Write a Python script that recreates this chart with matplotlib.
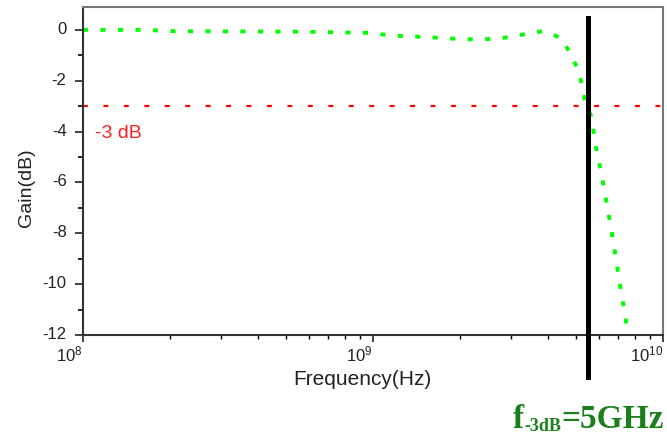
import matplotlib
matplotlib.use('Agg')
from matplotlib import pyplot as plt
from matplotlib.ticker import MultipleLocator, LogLocator, NullFormatter
from matplotlib.transforms import ScaledTranslation

plt.rcParams['font.family'] = ['Liberation Sans', 'DejaVu Sans']
plt.rcParams['mathtext.fontset'] = 'custom'
plt.rcParams['mathtext.rm'] = 'Liberation Sans'
plt.rcParams['axes.unicode_minus'] = False

# Gain curve
freqs = [1.0e8, 1.61e8, 2.07e8, 5.6e8, 9.8e8, 1.15e9, 1.57e9, 2.07e9, 2.43e9,
         2.83e9, 3.29e9, 3.85e9, 4.45e9, 4.82e9, 5.09e9, 5.26e9, 5.38e9,
         5.65e9, 5.87e9, 6.17e9, 6.46e9, 6.73e9, 7.0e9, 7.28e9, 7.57e9]
gain = [0.0, 0.0, -0.05, -0.07, -0.12, -0.22, -0.29, -0.37, -0.37,
        -0.31, -0.18, -0.05, -0.31, -0.98, -1.57, -2.17, -2.76,
        -3.39, -4.6, -5.83, -7.09, -8.3, -9.53, -10.75, -11.93]
ref_level = -3
f3db = 5.5e9
yticks = [0, -2, -4, -6, -8, -10, -12]

fig = plt.figure(figsize=(6.67, 4.35), dpi=100)
ax = fig.add_axes([0.1244, 0.2276, 0.8696, 0.754])

ax.plot(freqs, gain, color='#00ff00', lw=2.8, dashes=(1.3, 3.2), solid_capstyle='butt')
ax.axhline(ref_level, color='#ff0000', lw=1.6, dashes=(2.2, 7.0))
ax.axvline(f3db, ymin=-0.128, ymax=0.966, color='black', lw=3.6, clip_on=False, zorder=5)
ax.text(1.1e8, -4.05, '-3 dB', color='#ff2020', fontsize=14, va='center')

ax.set_xscale('log')
ax.set_xlim(1e8, 1e10)
ax.set_ylim(-12, 0.9)
ax.set_yticks(yticks)
ax.yaxis.set_minor_locator(MultipleLocator(1))
ax.xaxis.set_minor_locator(LogLocator(base=10, subs=range(2, 10)))
ax.xaxis.set_minor_formatter(NullFormatter())

ax.tick_params(axis='both', which='major', labelsize=12, colors='#222222', direction='out')
ax.tick_params(axis='y', which='major', length=5.8, width=1.2, pad=6)
ax.tick_params(axis='y', which='minor', length=3.6, width=1.2)
ax.tick_params(axis='x', which='major', length=5, width=1.2, pad=1)
ax.tick_params(axis='x', which='minor', length=3, width=1.0)
for lbl in ax.get_xticklabels():
    lbl.set_horizontalalignment('right')
up = ScaledTranslation(0, 3 / 100, fig.dpi_scale_trans)
for lbl in ax.get_yticklabels():
    lbl.set_transform(lbl.get_transform() + up)

for side in ['left', 'bottom']:
    ax.spines[side].set_color('#333333')
    ax.spines[side].set_linewidth(1.5)
for side in ['top', 'right']:
    ax.spines[side].set_color('#777777')
    ax.spines[side].set_linewidth(1.5)

ax.set_xlabel('Frequency(Hz)', fontsize=15, color='#222222')
ax.xaxis.set_label_coords(0.481, -0.104)
ax.set_ylabel('Gain(dB)', fontsize=14, color='#222222')
ax.yaxis.set_label_coords(-0.083, 0.451)

# f-3dB label below the plot
green = '#1a801a'
t1 = fig.text(513 / 667, 1 - 428 / 435, 'f', fontsize=24, family='Liberation Serif',
              weight='bold', color=green, va='baseline')
t2 = ax.annotate('-3dB', xy=(1, 0), xycoords=t1, xytext=(0.5, 0), textcoords='offset points',
                 fontsize=13, family='Liberation Serif', weight='bold', color=green,
                 va='bottom', ha='left', annotation_clip=False)
ax.annotate('=5GHz', xy=(1, 0), xycoords=(t2, t1), xytext=(0, 0), textcoords='offset points',
            fontsize=24, family='Liberation Serif', weight='bold', color=green,
            va='bottom', ha='left', annotation_clip=False)

plt.savefig('out.png', dpi=100)
